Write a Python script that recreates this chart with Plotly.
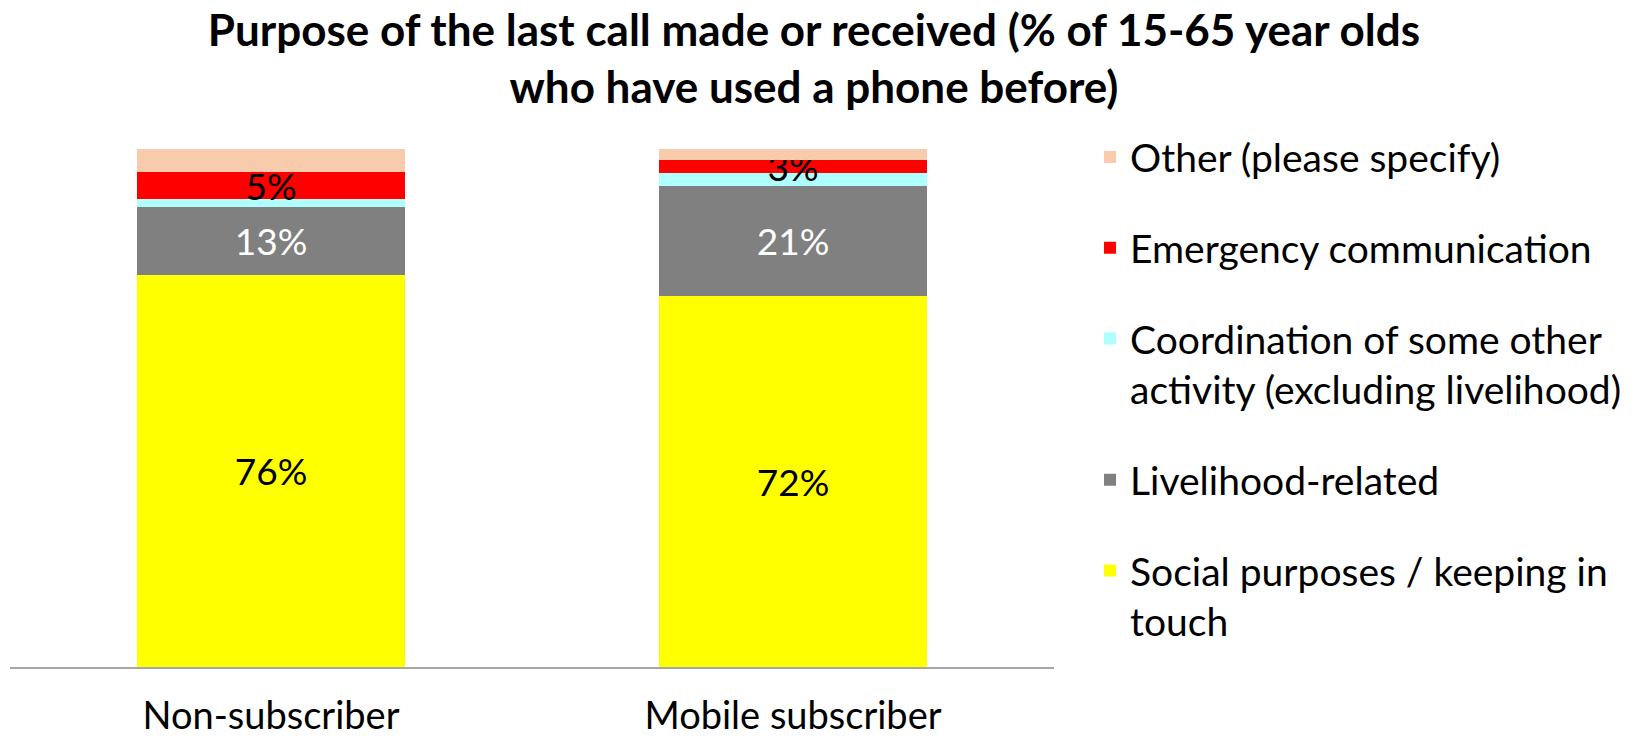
import plotly.graph_objects as go

categories = ["Non-subscriber", "Mobile subscriber"]
series_names = [
    "Social purposes / keeping in<br>touch",
    "Livelihood-related",
    "Coordination of some other<br>activity (excluding livelihood)",
    "Emergency communication",
    "Other (please specify)",
]
social = [75.7, 71.7]
livelihood = [13.1, 21.1]
coordination = [1.5, 2.5]
emergency = [5.3, 2.6]
other = [4.4, 2.1]
values = [social, livelihood, coordination, emergency, other]
colors = ["#FFFF00", "#808080", "#AFFFFF", "#FF0000", "#F8CBAD"]
label_colors = ["black", "white", None, "black", None]

FONT = "Lato"
fig = go.Figure()
n = len(series_names)
for i, (name, vals, col, lc) in enumerate(zip(series_names, values, colors, label_colors)):
    kw = {}
    if lc:
        kw = dict(texttemplate="%{y:.0f}%", textposition="inside",
                  insidetextanchor="middle",
                  textfont=dict(color=lc, size=37, family=FONT),
                  constraintext="none")
    fig.add_trace(go.Bar(x=categories, y=vals, name=name, marker_color=col,
                         marker_line_width=0, legendgroup=name,
                         legendrank=n - i, **kw))

fig.update_layout(
    barmode="stack",
    bargap=0.486,
    width=1641, height=739,
    margin=dict(l=10, r=587, t=149, b=72, autoexpand=False),
    paper_bgcolor="white", plot_bgcolor="white",
    font=dict(family=FONT, color="black"),
    title=dict(text="<b>Purpose of the last call made or received (% of 15-65 year olds<br>who have used a phone before)</b>",
               x=0.496, xanchor="center", xref="container",
               y=1 - 46 / 739, yanchor="middle", yref="container",
               font=dict(size=44, family=FONT, color="black")),
    uniformtext=dict(mode=False),
    legend=dict(traceorder="grouped", x=1.0345, xanchor="left",
                y=1.046, yanchor="top", valign="top", maxheight=700,
                font=dict(size=39, family=FONT, color="black"),
                tracegroupgap=37, bgcolor="rgba(0,0,0,0)"),
    showlegend=True,
)
fig.update_xaxes(showline=True, linecolor="#A6A6A6", linewidth=1.5,
                 tickfont=dict(size=38, family=FONT, color="black"),
                 ticks="", ticklabelstandoff=15, automargin=False)
fig.update_yaxes(range=[0, 100], visible=False, showgrid=False, automargin=False)

fig.write_html("out.html")
